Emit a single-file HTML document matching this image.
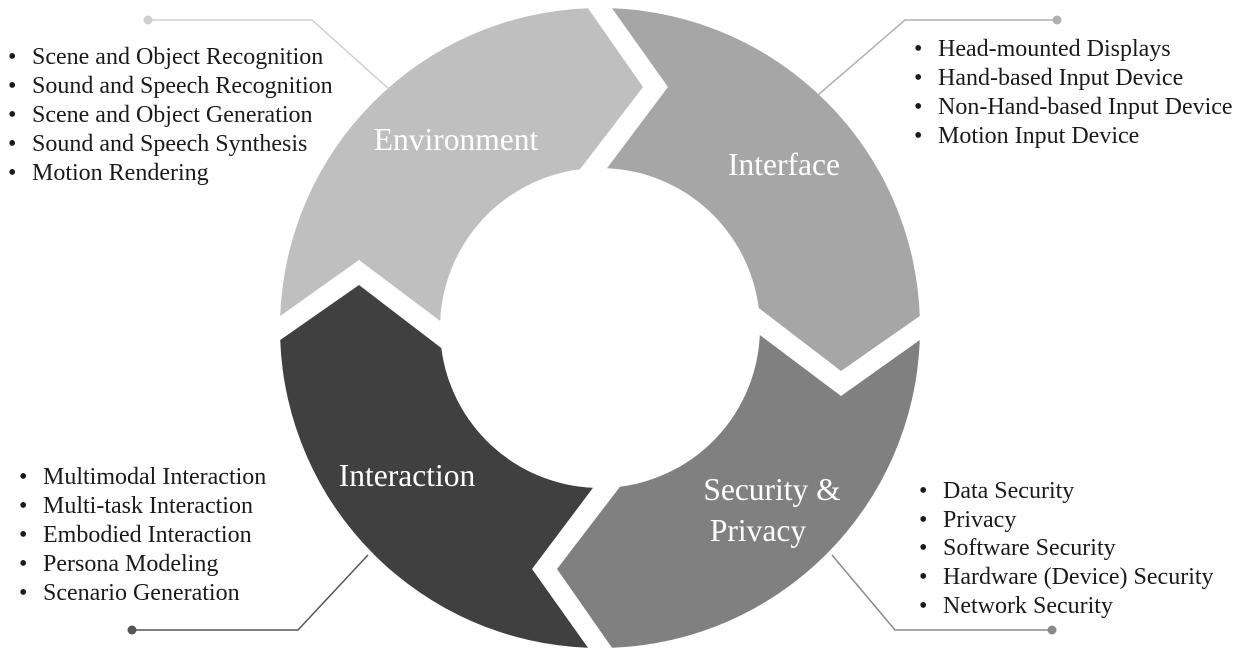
<!DOCTYPE html>
<html><head><meta charset="utf-8"><style>
html,body{margin:0;padding:0;background:#fff;}
svg{display:block;}
text{font-family:"Liberation Serif",serif;}
.l{font-size:24px;fill:#1a1a1a;}
.w{font-size:31.5px;fill:#fff;}
</style></head><body>
<svg width="1233" height="655" viewBox="0 0 1233 655" xmlns="http://www.w3.org/2000/svg">
<path fill="#bfbfbf" d="M440.2,321 L359,260 L280.2,316 A320,320 0 0 1 588,8.2 L643,87 L580,169.3 A160,160 0 0 0 440.2,321 Z"/>
<path fill="#a6a6a6" d="M607,168.2 L668,87 L612,8.2 A320,320 0 0 1 919.8,316 L841,371 L758.7,308 A160,160 0 0 0 607,168.2 Z"/>
<path fill="#808080" d="M759.8,335 L841,396 L919.8,340 A320,320 0 0 1 612,647.8 L557,569 L620,486.7 A160,160 0 0 0 759.8,335 Z"/>
<path fill="#404040" d="M593,487.8 L532,569 L588,647.8 A320,320 0 0 1 280.2,340 L359,285 L441.3,348 A160,160 0 0 0 593,487.8 Z"/>
<g fill="none" stroke-width="1.5">
<polyline stroke="#cfcfcf" points="148,20 312,20 390,90"/>
<polyline stroke="#b0b0b0" points="1057,20 905,20 818,95"/>
<polyline stroke="#555" points="132,630 298,630 368,555"/>
<polyline stroke="#8a8a8a" points="1052,630 895,630 832,555"/>
</g>
<circle cx="148" cy="20" r="4.5" fill="#cfcfcf"/>
<circle cx="1057" cy="20" r="4.5" fill="#b0b0b0"/>
<circle cx="132" cy="630" r="4.5" fill="#555"/>
<circle cx="1052" cy="630" r="4.5" fill="#8a8a8a"/>
<text class="w" x="456" y="150" text-anchor="middle">Environment</text>
<text class="w" x="784" y="175" text-anchor="middle">Interface</text>
<text class="w" x="407" y="486" text-anchor="middle">Interaction</text>
<text class="w" x="772" y="500" text-anchor="middle">Security &amp;</text>
<text class="w" x="758" y="541" text-anchor="middle">Privacy</text>
<g class="l">
<text x="8" y="64">•</text><text x="32" y="64">Scene and Object Recognition</text>
<text x="8" y="93">•</text><text x="32" y="93">Sound and Speech Recognition</text>
<text x="8" y="122">•</text><text x="32" y="122">Scene and Object Generation</text>
<text x="8" y="151">•</text><text x="32" y="151">Sound and Speech Synthesis</text>
<text x="8" y="180">•</text><text x="32" y="180">Motion Rendering</text>

<text x="914" y="56">•</text><text x="938" y="56">Head-mounted Displays</text>
<text x="914" y="85">•</text><text x="938" y="85">Hand-based Input Device</text>
<text x="914" y="114">•</text><text x="938" y="114">Non-Hand-based Input Device</text>
<text x="914" y="143">•</text><text x="938" y="143">Motion Input Device</text>

<text x="19" y="484">•</text><text x="43" y="484">Multimodal Interaction</text>
<text x="19" y="513">•</text><text x="43" y="513">Multi-task Interaction</text>
<text x="19" y="542">•</text><text x="43" y="542">Embodied Interaction</text>
<text x="19" y="571">•</text><text x="43" y="571">Persona Modeling</text>
<text x="19" y="600">•</text><text x="43" y="600">Scenario Generation</text>

<text x="919" y="498">•</text><text x="943" y="498">Data Security</text>
<text x="919" y="527">•</text><text x="943" y="527">Privacy</text>
<text x="919" y="555">•</text><text x="943" y="555">Software Security</text>
<text x="919" y="584">•</text><text x="943" y="584">Hardware (Device) Security</text>
<text x="919" y="613">•</text><text x="943" y="613">Network Security</text>
</g>
</svg>
</body></html>
